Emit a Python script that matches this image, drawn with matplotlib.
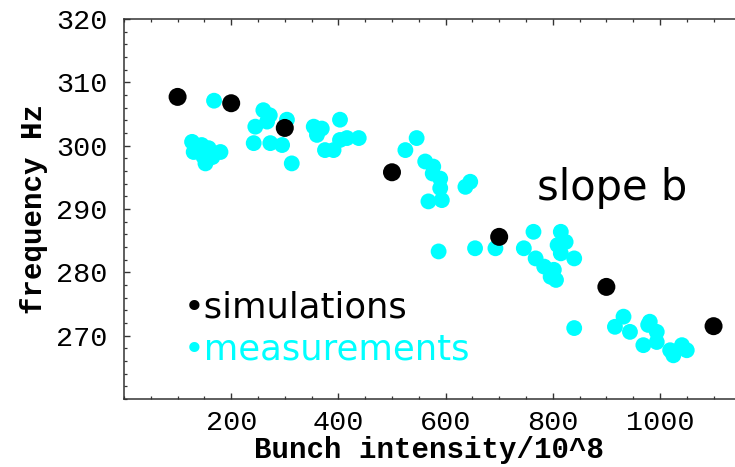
import matplotlib.pyplot as plt
from matplotlib.ticker import MultipleLocator

# simulations (black)
sim_x = [100, 200, 300, 500, 700, 900, 1100]
sim_y = [307.7, 306.7, 302.8, 295.8, 285.6, 277.7, 271.5]

# measurements (cyan)
meas_x = [168, 127, 145, 158, 130, 148, 180, 152, 165,
          260, 245, 267, 242, 273, 295, 304, 313, 272,
          354, 369, 360, 403, 375, 391, 403, 416, 438,
          546, 525, 562, 577, 576, 590, 590, 568, 593, 637, 646, 587, 655, 693,
          764, 815, 746, 768, 824, 840, 809, 784, 796, 806, 802, 815, 840,
          916, 932, 944, 978, 994, 969, 994, 1019, 1041, 1050, 1025, 981]
meas_y = [307.1, 300.6, 300.1, 299.6, 299.0, 298.3, 299.0, 297.2, 298.2,
          305.6, 303.0, 303.8, 300.4, 300.4, 300.1, 304.1, 297.2, 304.8,
          303.0, 302.7, 301.7, 304.1, 299.3, 299.3, 300.9, 301.2, 301.2,
          301.2, 299.3, 297.5, 296.7, 295.6, 294.8, 293.3, 291.2, 291.4, 293.5, 294.3, 283.3, 283.8, 283.8,
          286.4, 286.4, 283.8, 282.2, 284.8, 282.2, 284.3, 280.9, 279.3, 278.8, 280.4, 283.0, 271.2,
          271.4, 273.0, 270.6, 271.7, 270.6, 268.5, 269.0, 267.7, 268.5, 267.7, 266.9, 272.2]

x_ticks = [200, 400, 600, 800, 1000]
y_ticks = [270, 280, 290, 300, 310, 320]

W, H = 735, 467
fig = plt.figure(figsize=(W / 100, H / 100), dpi=100)
ax = fig.add_axes([124 / W, 68 / H, 1 - 124 / W, 380 / H])

ax.scatter(meas_x, meas_y, s=130, color='#00ffff', edgecolors='none', zorder=2)
ax.scatter(sim_x, sim_y, s=168, color='black', edgecolors='none', zorder=3)

ax.set_xlim(0, 1140)
ax.set_ylim(260, 320)
ax.set_xticks(x_ticks)
ax.set_yticks(y_ticks)
ax.xaxis.set_minor_locator(MultipleLocator(50))
ax.yaxis.set_minor_locator(MultipleLocator(2))

ax.spines['right'].set_visible(False)
for sp in ['left', 'bottom', 'top']:
    ax.spines[sp].set_color('#333333')
    ax.spines[sp].set_linewidth(1.1)

ax.tick_params(which='both', direction='in', top=True, right=False, color='#333333')
ax.tick_params(which='major', length=4, width=1.0)
ax.tick_params(which='minor', length=2.2, width=0.9)
for lab in ax.get_xticklabels() + ax.get_yticklabels():
    lab.set_fontfamily('Liberation Mono')
    lab.set_fontsize(20.5)
ax.tick_params(axis='x', pad=8)
ax.tick_params(axis='y', pad=12)

ax.set_xlabel('Bunch intensity/10^8', fontfamily='Liberation Mono',
              fontsize=21, fontweight='bold', labelpad=0)
ax.set_ylabel('frequency Hz', fontfamily='Liberation Mono',
              fontsize=21, fontweight='bold', labelpad=6)

fig.text(537 / W, 1 - 200 / H, 'slope b', fontfamily='DejaVu Sans',
         fontsize=30, color='black', va='baseline')
fig.text(184 / W, 1 - 318 / H, '\u2022simulations', fontfamily='DejaVu Sans',
         fontsize=25.5, color='black', va='baseline')
fig.text(184 / W, 1 - 360 / H, '\u2022measurements', fontfamily='DejaVu Sans',
         fontsize=25.5, color='#00ffff', va='baseline')

plt.savefig('out.png', dpi=100)
